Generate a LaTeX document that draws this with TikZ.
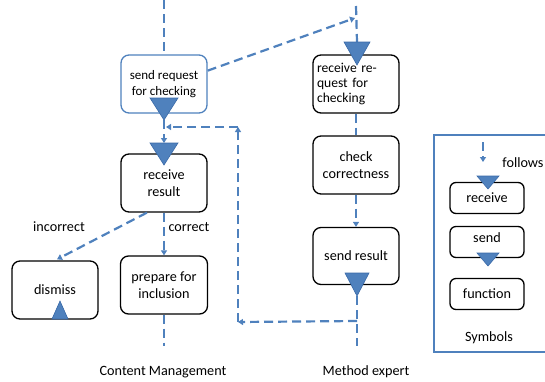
\documentclass[tikz,border=0pt]{standalone}
\usepackage{fontspec}
\setmainfont{Carlito}
\usetikzlibrary{arrows.meta,calc}
\definecolor{flowblue}{HTML}{4F81BD}
\definecolor{tridark}{HTML}{3A6AA8}
\begin{document}
\begin{tikzpicture}[x=1pt,y=-1pt,
  every node/.style={font=\fontsize{14.2}{17.5}\selectfont, text=black},
  box/.style={draw=black, line width=1.3pt, rounded corners=8pt, minimum width=86pt, minimum height=58pt, align=center, inner sep=2pt},
  lbox/.style={draw=black, line width=1.3pt, rounded corners=6pt, minimum width=74pt, minimum height=31pt, inner sep=1pt},
  dline/.style={draw=flowblue, line width=2.2pt, dash pattern=on 9pt off 5pt},
  darrow/.style={dline, -{Triangle[length=5pt,width=6pt]}},
  tri/.style={fill=flowblue, draw=tridark, line width=0.6pt},
  lbl/.style={inner sep=0pt}]
\useasboundingbox (0,0) rectangle (545,381);

% lanes' boxes
\node[box, draw=flowblue, font=\fontsize{13}{16}\selectfont] (sendreq) at (164,84) {send request\\for checking};
\node[box] (recvres) at (164,183) {receive\\result};
\node[box] (dismiss) at (55,290) {dismiss};
\node[box, minimum width=87pt] (prepare) at (164,285) {prepare for\\inclusion};
\node[box, align=left, text width=78pt, font=\fontsize{13.6}{15}\selectfont] (recvreq) at (356,84) {receive re-\\quest for\\checking};
\node[box] (check) at (356,165) {check\\correctness};
\node[box, minimum height=57pt] (sendres) at (356,256) {send result};

% free ends
\coordinate (cmtop) at (164,0);
\coordinate (cmbot) at (164,346);
\coordinate (metop) at (356,6);
\coordinate (mearr) at (355,18);
\coordinate (mebot) at (357,346);
\coordinate (l1) at (357,321);
\coordinate (l2) at (238,322);
\coordinate (l3) at (238,127);
\coordinate (l4) at (166,127);
\coordinate (sqtip) at (164,120);
\coordinate (rrtop) at (164,143);
\coordinate (rqtop) at (357,42);
\coordinate (srtip) at (357,296);

% connectors
\draw[dline] (cmtop) -- (sendreq.north);
\draw[darrow] (sendreq.17) -- (mearr);
\draw[dline] (metop) -- (rqtop);
\draw[darrow] (sqtip) -- (rrtop);
\draw[darrow] (l1) -- (l2);
\draw[darrow] (l2) -- (l3);
\draw[darrow] (l3) -- (l4);
\draw[dline] (recvreq.south) -- (check.north);
\draw[darrow] (check.south) -- (sendres.north);
\draw[dline] (srtip) -- (mebot);
\draw[darrow] (recvres.south) -- (prepare.north);
\draw[darrow] (recvres.-120) -- ($(dismiss.north)+(2,-1)$);
\draw[dline] (prepare.south) -- (cmbot);

% triangles
\filldraw[tri] (150,98) -- (178,98) -- (sqtip) -- cycle;
\filldraw[tri] (150,143) -- (178,143) -- (164,165) -- cycle;
\filldraw[tri] (344,42) -- (370,42) -- (357,65) -- cycle;
\filldraw[tri] (345,273) -- (369,273) -- (srtip) -- cycle;
\filldraw[tri] (52,319) -- (68,319) -- (60,301) -- cycle;

% labels
\node[lbl] (incorrect) at (59,227) {incorrect};
\node[lbl] (correct) at (189,227) {correct};
\node[lbl] (cm) at (163,372) {Content Management};
\node[lbl] (me) at (366,372) {Method expert};

% legend
\draw[draw=flowblue, line width=1.5pt] (546,135) -- (434,135) -- (434,352) -- (546,352);
\coordinate (fa) at (483,142);
\coordinate (fb) at (483,162);
\draw[darrow] (fa) -- (fb);
\node[lbl] (follows) at (523,163) {follows};
\node[lbox] (legrecv) at (487,198) {receive};
\filldraw[tri] (477,176) -- (499,176) -- (488,189) -- cycle;
\node[lbox, label={[yshift=4pt]center:send}] (legsend) at (487,242) {};
\filldraw[tri] (477,253) -- (499,253) -- (488,266) -- cycle;
\node[lbox] (legfunc) at (487,294) {function};
\node[lbl] (symbols) at (489,338) {Symbols};
\end{tikzpicture}
\end{document}
